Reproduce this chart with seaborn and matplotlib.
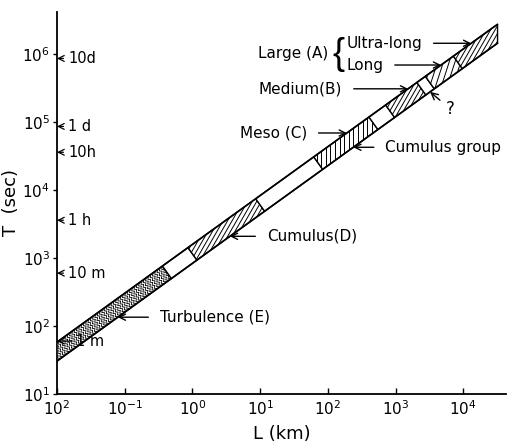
import numpy as np
import matplotlib.pyplot as plt
import seaborn as sns
from matplotlib.patches import Polygon
from matplotlib.collections import LineCollection
from matplotlib.ticker import NullLocator

sns.set_theme(style="ticks")
plt.rcParams['font.family'] = ['DejaVu Sans']
plt.rcParams['text.color'] = 'black'
plt.rcParams['axes.labelcolor'] = 'black'
plt.rcParams['xtick.color'] = 'black'
plt.rcParams['ytick.color'] = 'black'

# band edges read at both ends (L in km, T in s)
band_L = [0.01, 32000]
band_T_upper = [58, 2.75e6]
band_T_lower = [30.5, 1.45e6]

# segments along the band, L measured on the band centre line (km)
seg_names = ["Turbulence (E)", "gap1", "Cumulus (D)", "gap2", "Meso (C)", "gap3",
             "Medium (B)", "?", "Long", "Ultra-long"]
seg_L_start = [0.003, 0.42, 1.0, 10, 72, 470, 830, 2400, 3200, 8300]
seg_L_end = [0.42, 1.0, 10, 72, 470, 830, 2400, 3200, 8300, 1e5]

# time markers on the T axis
mark_labels = ["10d", "1 d", "10h", "1 h", "10 m", "1 m"]
mark_T = [864000, 86400, 36000, 3600, 600, 60]

xtick_vals = [1e-2, 1e-1, 1, 10, 100, 1e3, 1e4]
xtick_labels = ["$10^{2}$", "$10^{-1}$", "$10^{0}$", "$10^{1}$",
                "$10^{2}$", "$10^{3}$", "$10^{4}$"]
ytick_vals = [10, 100, 1e3, 1e4, 1e5, 1e6]

# hatch style per segment: (angle in degrees, spacing in pixels) or zigzag
hatch_style = {
    "Turbulence (E)": "zigzag",
    "Cumulus (D)": (60, 3.9),
    "Meso (C)": (90, 4.6),
    "Medium (B)": (60, 3.9),
    "Long": (72, 5.5),
    "Ultra-long": (60, 3.9),
}
PX_PER_DECADE = 67.7

# --- band geometry in log-log space ---
lx = np.log10(band_L)
lu = np.log10(band_T_upper)
ll = np.log10(band_T_lower)
slope = ((lu[1] - lu[0]) + (ll[1] - ll[0])) / 2 / (lx[1] - lx[0])
c0 = (lu[0] + ll[0]) / 2
hv = (lu[0] - ll[0]) / 2          # vertical half width
r = np.sqrt(1 + slope ** 2)
nx, ny = -slope / r, 1 / r        # normal to the band
dx, dy = 1 / r, slope / r         # along the band
hp = hv / r                       # perpendicular half width


def centre(u):
    return c0 + slope * (u - lx[0])


def edge_point(u, side):
    # point on the band edge on the perpendicular through centre(u)
    return u + side * nx * hp, centre(u) + side * ny * hp


def edge_u(logT, side):
    # L where the band edge reaches a given T
    return (logT - side * hv - c0) / slope + lx[0]


def segment_poly(ua, ub):
    if ua <= lx[0]:
        left = [(lx[0], ll[0]), (lx[0], lu[0])]
    else:
        left = [edge_point(ua, -1), edge_point(ua, 1)]
    if ub >= lx[1]:
        right = [(lx[1], lu[1]), (lx[1], ll[1])]
    else:
        right = [edge_point(ub, 1), edge_point(ub, -1)]
    return np.array(left + right)


fig = plt.figure(figsize=(5.07, 4.46), dpi=100)
fig.patch.set_facecolor("white")
ax = fig.add_axes([57 / 507, 1 - 394 / 446, 449 / 507, 382 / 446])
ax.set_xscale("log")
ax.set_yscale("log")
ax.set_xlim(1e-2, 10 ** 4.63)
ax.set_ylim(10, 10 ** 6.62)

for name, a, b in zip(seg_names, seg_L_start, seg_L_end):
    ua, ub = np.log10(a), np.log10(b)
    poly = segment_poly(ua, ub)
    patch = Polygon(10 ** poly, closed=True, facecolor="white", edgecolor="black",
                    lw=1.0, zorder=3)
    ax.add_patch(patch)
    style = hatch_style.get(name)
    if style is None:
        continue
    segs = []
    if style == "zigzag":
        v = np.linspace(-hp * 1.2, hp * 1.2, 11)
        wig = np.where(np.arange(11) % 2 == 0, -0.016, 0.016)
        for u in np.arange(ua + 0.02, ub, 0.034):
            px = u + v * nx + wig * dx
            py = centre(u) + v * ny + wig * dy
            segs.append(np.column_stack([10 ** px, 10 ** py]))
        lw = 0.6
    else:
        ang, spc = style
        t = np.radians(ang)
        d = np.array([np.cos(t), np.sin(t)])
        n = np.array([-np.sin(t), np.cos(t)])
        sp = spc / PX_PER_DECADE
        proj = poly @ n
        for k in np.arange(np.floor(proj.min() / sp), np.ceil(proj.max() / sp) + 1):
            p0 = k * sp * n + (poly.mean(axis=0) @ d) * d
            line = np.array([p0 - 2 * d, p0 + 2 * d])
            segs.append(10 ** line)
        lw = 0.7
    lc = LineCollection(segs, colors="black", linewidths=lw, zorder=3)
    ax.add_collection(lc)
    lc.set_clip_path(patch)

for T_edge in (band_T_upper, band_T_lower):
    sns.lineplot(x=band_L, y=T_edge, color="black", lw=1.2, ax=ax, zorder=4)

# labels with arrows to the band
arrow = dict(arrowstyle="->", color="black", lw=1.0, shrinkA=6, shrinkB=0)
labels = [
    ("Turbulence (E)", 10 ** -0.48, 10 ** 2.13, -1, "left"),
    ("Cumulus(D)", 10 ** 1.10, 10 ** 3.32, -1, "left"),
    ("Cumulus group", 10 ** 2.85, 10 ** 4.63, -1, "left"),
    ("Meso (C)", 10 ** 1.69, 10 ** 4.84, 1, "right"),
    ("Medium(B)", 10 ** 2.21, 10 ** 5.49, 1, "right"),
    ("Long", 10 ** 2.27, 10 ** 5.84, 1, "left"),
    ("Ultra-long", 10 ** 2.27, 10 ** 6.16, 1, "left"),
]
for txt, tx, ty, side, ha in labels:
    u = edge_u(np.log10(ty), side)
    ax.annotate(txt, xy=(10 ** u, ty), xytext=(tx, ty), ha=ha, va="center",
                fontsize=11, arrowprops=arrow, zorder=5)

ax.text(10 ** 0.97, 10 ** 6.01, "Large (A)", ha="left", va="center", fontsize=11)
ax.text(10 ** 2.06, 10 ** 6.0, "{", ha="left", va="center", fontsize=26,
        family="Liberation Sans")

# "?" segment
ua, ub = np.log10(seg_L_start[7]), np.log10(seg_L_end[7])
qx, qy = edge_point((ua + ub) / 2, -1)
ax.annotate("?", xy=(10 ** qx, 10 ** qy), xytext=(10 ** 3.8, 10 ** 5.2), ha="center",
            va="center", fontsize=12, arrowprops=dict(arrowstyle="->", color="black",
                                                      lw=1.0, shrinkA=2, shrinkB=0))

# time markers along the axis
for lab, t in zip(mark_labels, mark_T):
    off = 14 if lab == "1 m" else 8
    ax.annotate(lab, xy=(0, t), xycoords=("axes fraction", "data"),
                xytext=(off, 0), textcoords="offset points", ha="left", va="center",
                fontsize=10.5, zorder=6,
                arrowprops=dict(arrowstyle="->", color="black", lw=0.9, shrinkA=1, shrinkB=0))

ax.set_xticks(xtick_vals, xtick_labels)
ax.set_yticks(ytick_vals)
ax.xaxis.set_minor_locator(NullLocator())
ax.yaxis.set_minor_locator(NullLocator())
ax.tick_params(axis="x", direction="in", length=4, width=1, labelsize=11, pad=4, colors="black")
ax.tick_params(axis="y", direction="out", length=3, width=1, labelsize=11, pad=2, colors="black")
sns.despine(ax=ax)
for sp in ("left", "bottom"):
    ax.spines[sp].set_color("black")
    ax.spines[sp].set_linewidth(1.3)
ax.set_facecolor("white")
ax.grid(False)

ax.set_xlabel("L (km)", fontsize=13, color="black", labelpad=5)
ax.set_ylabel("T  (sec)", fontsize=13, color="black")
ax.yaxis.set_label_coords(-0.082, 0.5)

fig.savefig("out.png", dpi=100, facecolor="white")
